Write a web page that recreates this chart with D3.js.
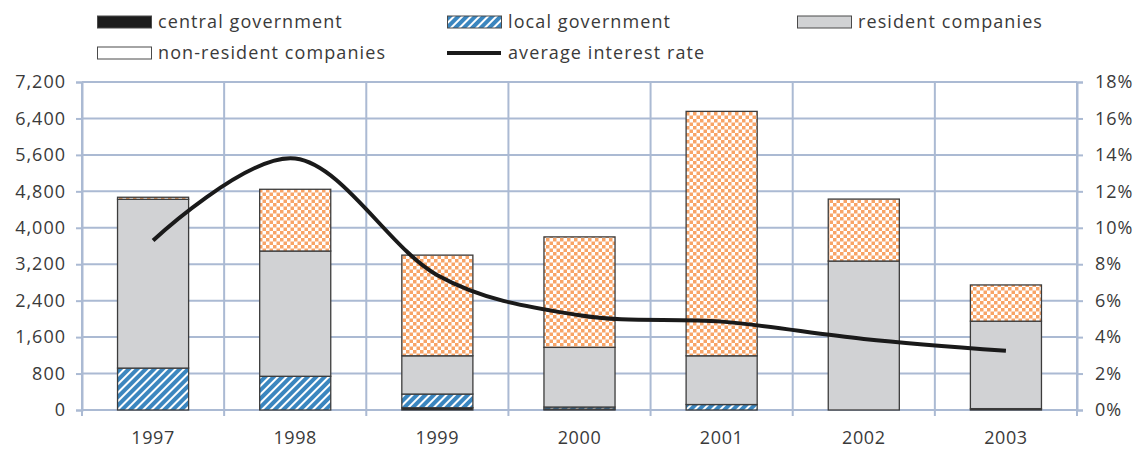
<!DOCTYPE html>
<html>
<head>
<meta charset="utf-8">
<script src="https://cdn.jsdelivr.net/npm/d3@7/dist/d3.min.js"></script>
<style>
  html, body { margin: 0; padding: 0; background: #fff; }
  svg { display: block; }
  text { font-family: "Open Sans", "DejaVu Sans", sans-serif; fill: #3a3a3a; }
</style>
</head>
<body>
<svg id="chart" width="1144" height="454"></svg>
<script>
// Debt by borrower (left axis) and average interest rate (right axis)
const years = ["1997", "1998", "1999", "2000", "2001", "2002", "2003"];
const centralGov = [0, 0, 50, 20, 0, 0, 30];
const localGov = [920, 740, 300, 45, 120, 0, 0];
const residentCos = [3705, 2750, 840, 1310, 1070, 3270, 1920];
const nonResidentCos = [45, 1355, 2210, 2425, 5365, 1360, 795];
const avgRate = [9.3, 13.8, 7.4, 5.2, 4.85, 3.9, 3.25];

const leftTicks = [0, 800, 1600, 2400, 3200, 4000, 4800, 5600, 6400, 7200];
const rightTicks = [0, 2, 4, 6, 8, 10, 12, 14, 16, 18];

const seriesKeys = ["central", "local", "resident", "nonresident"];
const seriesLabels = {
  central: "central government",
  local: "local government",
  resident: "resident companies",
  nonresident: "non-resident companies",
  rate: "average interest rate"
};

const rows = years.map((y, i) => ({
  year: y,
  central: centralGov[i],
  local: localGov[i],
  resident: residentCos[i],
  nonresident: nonResidentCos[i]
}));

const svg = d3.select("#chart");
const plot = { left: 82, right: 1077, top: 82, bottom: 410 };
const gridColor = "#abbad3";
const edgeColor = "#3c3c3c";

// Fill patterns
const defs = svg.append("defs");
const hatch = defs.append("pattern")
  .attr("id", "hatch").attr("patternUnits", "userSpaceOnUse")
  .attr("width", 6).attr("height", 6)
  .attr("patternTransform", "rotate(45)");
hatch.append("rect").attr("width", 6).attr("height", 6).attr("fill", "#3b86bf");
hatch.append("rect").attr("x", 0).attr("width", 2).attr("height", 6).attr("fill", "#ffffff");

const cell = 3.5;
const check = defs.append("pattern")
  .attr("id", "checker").attr("patternUnits", "userSpaceOnUse")
  .attr("width", cell * 2).attr("height", cell * 2);
check.append("rect").attr("width", cell * 2).attr("height", cell * 2).attr("fill", "#ffffff");
check.append("rect").attr("width", cell).attr("height", cell).attr("fill", "#f8a467");
check.append("rect").attr("x", cell).attr("y", cell).attr("width", cell).attr("height", cell)
  .attr("fill", "#f8a467");

const fills = {
  central: "#1c1c1c",
  local: "url(#hatch)",
  resident: "#d1d2d4",
  nonresident: "url(#checker)"
};

// Scales
const x = d3.scaleBand().domain(years)
  .range([plot.left, plot.right])
  .paddingInner(0.5).paddingOuter(0.25);
const step = x.step();
const yL = d3.scaleLinear().domain([0, 7200]).range([plot.bottom, plot.top]);
const yR = d3.scaleLinear().domain([0, 18]).range([plot.bottom, plot.top]);

// Gridlines
const grid = svg.append("g").attr("stroke", gridColor).attr("stroke-width", 2);
grid.selectAll("line.h").data(leftTicks).join("line")
  .attr("x1", plot.left).attr("x2", plot.right)
  .attr("y1", d => yL(d)).attr("y2", d => yL(d));
const bounds = years.map(y => x(y) - (step - x.bandwidth()) / 2).concat([plot.right]);
grid.selectAll("line.v").data(bounds).join("line")
  .attr("x1", d => d).attr("x2", d => d)
  .attr("y1", plot.top).attr("y2", plot.bottom + 6);

// Axes
const axisL = svg.append("g").attr("transform", `translate(${plot.left},0)`)
  .call(d3.axisLeft(yL).tickValues(leftTicks).tickSize(6).tickPadding(10)
    .tickFormat(d3.format(",")));
const axisR = svg.append("g").attr("transform", `translate(${plot.right},0)`)
  .call(d3.axisRight(yR).tickValues(rightTicks).tickSize(6).tickPadding(10)
    .tickFormat(d => d + "%"));
[axisL, axisR].forEach(a => {
  a.select(".domain").attr("stroke", gridColor).attr("stroke-width", 2);
  a.selectAll(".tick line").attr("stroke", gridColor).attr("stroke-width", 2);
  a.selectAll(".tick text").attr("font-size", 18).attr("fill", "#3a3a3a")
    .attr("letter-spacing", "1px")
    .style("font-family", "\"Open Sans\", sans-serif");
});
axisR.selectAll(".tick text").attr("dx", 2);

const axisB = svg.append("g").attr("transform", `translate(0,${plot.bottom})`)
  .call(d3.axisBottom(x).tickSize(0).tickPadding(21));
axisB.select(".domain").remove();
axisB.selectAll(".tick text").attr("font-size", 18).attr("fill", "#3a3a3a")
  .attr("letter-spacing", "0.6px")
  .style("font-family", "\"Open Sans\", sans-serif");

// Stacked bars
const stack = d3.stack().keys(seriesKeys)(rows);
svg.append("g").selectAll("g").data(stack).join("g")
  .attr("fill", s => fills[s.key])
  .selectAll("rect").data(s => s.filter(d => d[1] - d[0] > 0)).join("rect")
  .attr("x", d => x(d.data.year))
  .attr("width", x.bandwidth())
  .attr("y", d => yL(d[1]))
  .attr("height", d => yL(d[0]) - yL(d[1]))
  .attr("stroke", edgeColor).attr("stroke-width", 1.3);

// Interest rate line
const line = d3.line()
  .x((d, i) => x(years[i]) + x.bandwidth() / 2)
  .y(d => yR(d))
  .curve(d3.curveCardinal.tension(0));
svg.append("path").datum(avgRate)
  .attr("d", line)
  .attr("fill", "none").attr("stroke", "#1a1a1a")
  .attr("stroke-width", 4).attr("stroke-linecap", "butt");

// Legend
const legendItems = [
  { key: "central", col: 0, row: 0 },
  { key: "local", col: 1, row: 0 },
  { key: "resident", col: 2, row: 0 },
  { key: "nonresident", col: 0, row: 1 },
  { key: "rate", col: 1, row: 1 }
];
const colX = [97, 447, 797];
const rowY = [22, 53];
const lg = svg.append("g");
legendItems.forEach(it => {
  const g = lg.append("g").attr("transform", `translate(${colX[it.col]},${rowY[it.row]})`);
  if (it.key === "rate") {
    g.append("line").attr("x1", 0).attr("x2", 54).attr("y1", 0).attr("y2", 0)
      .attr("stroke", "#1a1a1a").attr("stroke-width", 4);
  } else {
    g.append("rect").attr("x", 0.5).attr("y", -6).attr("width", 54).attr("height", 12)
      .attr("fill", it.key === "nonresident" ? "#ffffff" : fills[it.key])
      .attr("stroke", "#4a4a4a").attr("stroke-width", 1);
  }
  g.append("text").attr("x", 61).attr("y", 0).attr("dy", "0.35em")
    .attr("font-size", 18).attr("letter-spacing", "1.1px")
    .text(seriesLabels[it.key]);
});
</script>
</body>
</html>
